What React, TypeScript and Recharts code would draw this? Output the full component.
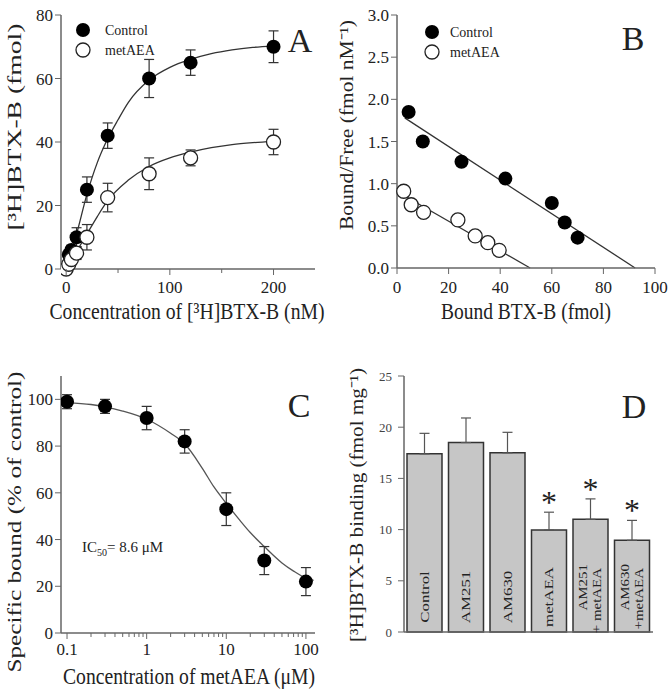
import React from 'react';
import { ComposedChart, Scatter, Line, Bar, XAxis, YAxis, ErrorBar, LabelList } from 'recharts';

const FONT = '"Liberation Serif", "Times New Roman", serif';
const INK = '#222';
const AXIS = '#666';

// A: saturation binding of [3H]BTX-B
const aCtrlConc = [2.5, 5, 10, 20, 40, 80, 120, 200];
const aCtrlBound = [4.5, 6, 10, 25, 42, 60, 65, 70];
const aCtrlErr = [1.5, 1.5, 3, 4, 4, 6, 4, 5];
const aMetConc = [0, 2.5, 5, 10, 20, 40, 80, 120, 200];
const aMetBound = [0, 1.5, 3, 5, 10, 22.5, 30, 35, 40];
const aMetErr = [0, 1, 1.5, 2, 4, 4.5, 5, 2.5, 4];
const aCtrlFitX = [0, 5, 10, 20, 30, 40, 50, 60, 80, 100, 120, 140, 160, 180, 200];
const aCtrlFitY = [0, 5.5, 11, 23.5, 33.5, 41, 47, 52.5, 59.5, 63.5, 66, 67.8, 69, 69.8, 70.3];
const aMetFitX = [0, 5, 10, 20, 30, 40, 60, 80, 100, 120, 140, 160, 180, 200];
const aMetFitY = [0, 2.8, 5.5, 11, 16.5, 21.5, 28, 32.3, 35, 36.8, 38.2, 39.2, 39.8, 40.2];

// B: Scatchard plot
const bCtrlBound = [4.5, 10, 25, 42, 60, 65, 70];
const bCtrlRatio = [1.85, 1.5, 1.26, 1.06, 0.77, 0.54, 0.36];
const bMetBound = [2.6, 5.5, 10.3, 23.6, 30.3, 35.2, 39.6];
const bMetRatio = [0.91, 0.75, 0.66, 0.57, 0.38, 0.3, 0.21];
const bCtrlLineX = [3, 92.3];
const bCtrlLineY = [1.78, 0];
const bMetLineX = [1.5, 51.6];
const bMetLineY = [0.88, 0];

// C: displacement by metAEA
const cConc = [0.1, 0.3, 1, 3, 10, 30, 100];
const cBound = [99, 97, 92, 82, 53, 31, 22];
const cErr = [3, 3, 5, 5, 7, 6, 6];
const cFitConc = [0.1, 0.2, 0.3, 0.5, 1, 2, 3, 5, 7, 10, 15, 20, 30, 50, 70, 100, 125];
const cFitBound = [98.5, 97.8, 96.8, 95, 91.5, 85.5, 81, 70.5, 62.5, 55.5, 48, 43, 37, 30, 26.5, 23.5, 22.5];
const cTicks = [0.1, 0.2, 0.3, 0.4, 0.5, 0.6, 0.7, 0.8, 0.9, 1, 2, 3, 4, 5, 6, 7, 8, 9, 10, 20, 30, 40, 50, 60, 70, 80, 90, 100];
const cMajor = [0.1, 1, 10, 100];

// D: binding with antagonists
const dGroups = ['Control', 'AM251', 'AM630', 'metAEA', 'AM251\n+ metAEA', 'AM630\n+metAEA'];
const dValues = [17.4, 18.5, 17.5, 9.95, 11.0, 8.95];
const dErrors = [2.0, 2.4, 2.0, 1.75, 2.0, 1.95];
const dSignif = [false, false, false, true, true, true];

const pts = (xs: number[], ys: number[], es?: number[]) =>
  xs.map((x, i) => ({ x, y: ys[i], err: es ? es[i] : 0 }));

const filledDot = (p: any) => <circle cx={p.cx} cy={p.cy} r={7} fill="#000" />;
const openDot = (p: any) => <circle cx={p.cx} cy={p.cy} r={7} fill="#fff" stroke="#222" strokeWidth={1.3} />;

const makeXTick = (axisY: number, majors: number[], fmt: (v: number) => string, off = 23) => (props: any) => {
  const { x, payload } = props;
  const v = payload.value;
  const major = majors.some((m) => Math.abs(m - v) < 1e-9);
  return (
    <g>
      <line x1={x} x2={x} y1={axisY} y2={axisY + (major ? 6 : 4)} stroke={AXIS} />
      {major && (
        <text x={x} y={axisY + off} textAnchor="middle" fontSize={17} fill={INK} fontFamily={FONT}>
          {fmt(v)}
        </text>
      )}
    </g>
  );
};

const yTickStyle = { fontSize: 17, fill: INK, fontFamily: FONT };

const BarName = (p: any) => {
  const lines = String(p.value).split('\n');
  const cx = p.x + p.width / 2;
  const bottom = p.y + p.height;
  if (lines.length === 1) {
    return (
      <text transform={`translate(${cx},${bottom - 35}) rotate(-90) scale(1.3,1)`} textAnchor="middle"
        dominantBaseline="central" fontSize={13} fill={INK} fontFamily={FONT}>{lines[0]}</text>
    );
  }
  return (
    <g>
      {lines.map((l, i) => (
        <text key={i} transform={`translate(${cx - 7 + i * 14},${bottom - 68 + i * 4}) rotate(-90) scale(1.3,1)`}
          textAnchor="end" dominantBaseline="central" fontSize={11.5} fill={INK} fontFamily={FONT}>{l}</text>
      ))}
    </g>
  );
};

const Star = (p: any) => {
  const i = dGroups.indexOf(p.value);
  if (i < 0 || !dSignif[i]) return null;
  const perUnit = p.height / dValues[i];
  const top = p.y - dErrors[i] * perUnit;
  return (
    <text x={p.x + p.width / 2} y={top + 1} textAnchor="middle" fontSize={32} fill={INK} fontFamily={FONT}>*</text>
  );
};

const Title = ({ x, y, len, rot = 0, sy = 1, children }: any) => (
  <text transform={`translate(${x},${y}) rotate(${rot}) scale(1,${sy})`} textAnchor="middle" dominantBaseline="central"
    fontSize={19} fill={INK} fontFamily={FONT} textLength={len} lengthAdjust="spacingAndGlyphs">{children}</text>
);

export default function App() {
  const dRows = dGroups.map((name, i) => ({ name, value: dValues[i], err: [0, dErrors[i]] }));
  return (
    <div style={{ position: 'relative', width: 670, height: 694, background: '#fff', fontFamily: FONT }}>
      <style>{'body{margin:0}'}</style>

      <div style={{ position: 'absolute', left: 0, top: 0 }}>
        <ComposedChart width={335} height={340} margin={{ top: 15, right: 20, left: 21, bottom: 41 }}>
          <XAxis type="number" dataKey="x" domain={[-5, 240]} ticks={[0, 50, 100, 150, 200]} allowDataOverflow interval={0}
            height={30} axisLine={{ stroke: AXIS, strokeWidth: 1.5 }} tickLine={false}
            tick={makeXTick(269, [0, 100, 200], (v) => String(v), 24) as any} />
          <YAxis type="number" dataKey="y" domain={[0, 80]} ticks={[0, 20, 40, 60, 80]} width={40} interval={0}
            axisLine={{ stroke: AXIS, strokeWidth: 1.5 }} tickLine={{ stroke: AXIS }} tick={yTickStyle} />
          <Line data={pts(aCtrlFitX, aCtrlFitY)} dataKey="y" type="monotone" dot={false} stroke="#333" strokeWidth={1.3} isAnimationActive={false} />
          <Line data={pts(aMetFitX, aMetFitY)} dataKey="y" type="monotone" dot={false} stroke="#333" strokeWidth={1.3} isAnimationActive={false} />
          <Scatter data={pts(aCtrlConc, aCtrlBound, aCtrlErr)} dataKey="y" shape={filledDot} isAnimationActive={false}>
            <ErrorBar dataKey="err" direction="y" width={5} stroke="#333" strokeWidth={1.2} />
          </Scatter>
          <Scatter data={pts(aMetConc, aMetBound, aMetErr)} dataKey="y" shape={openDot} isAnimationActive={false}>
            <ErrorBar dataKey="err" direction="y" width={5} stroke="#333" strokeWidth={1.2} />
          </Scatter>
        </ComposedChart>
      </div>

      <div style={{ position: 'absolute', left: 335, top: 0 }}>
        <ComposedChart width={335} height={340} margin={{ top: 15, right: 15, left: 22, bottom: 42 }}>
          <XAxis type="number" dataKey="x" domain={[0, 100]} ticks={[0, 20, 40, 60, 80, 100]} height={30} interval={0}
            axisLine={{ stroke: AXIS, strokeWidth: 1.5 }} tickLine={false}
            tick={makeXTick(268, [0, 20, 40, 60, 80, 100], (v) => String(v), 25) as any} />
          <YAxis type="number" dataKey="y" domain={[0, 3]} ticks={[0, 0.5, 1, 1.5, 2, 2.5, 3]} width={40} interval={0}
            tickFormatter={(v: number) => v.toFixed(1)}
            axisLine={{ stroke: AXIS, strokeWidth: 1.5 }} tickLine={{ stroke: AXIS }} tick={yTickStyle} />
          <Line data={pts(bCtrlLineX, bCtrlLineY)} dataKey="y" type="linear" dot={false} stroke="#333" strokeWidth={1.3} isAnimationActive={false} />
          <Line data={pts(bMetLineX, bMetLineY)} dataKey="y" type="linear" dot={false} stroke="#333" strokeWidth={1.3} isAnimationActive={false} />
          <Scatter data={pts(bCtrlBound, bCtrlRatio)} dataKey="y" shape={filledDot} isAnimationActive={false} />
          <Scatter data={pts(bMetBound, bMetRatio)} dataKey="y" shape={openDot} isAnimationActive={false} />
        </ComposedChart>
      </div>

      <div style={{ position: 'absolute', left: 0, top: 340 }}>
        <ComposedChart width={335} height={354} margin={{ top: 36, right: 20, left: 21, bottom: 31 }}>
          <XAxis type="number" dataKey="x" scale="log" domain={[0.084, 130]} ticks={cTicks} allowDataOverflow interval={0}
            height={30} axisLine={{ stroke: AXIS, strokeWidth: 1.5 }} tickLine={false}
            tick={makeXTick(293, cMajor, (v) => String(v), 22) as any} />
          <YAxis type="number" dataKey="y" domain={[0, 110]} ticks={[0, 20, 40, 60, 80, 100]} width={40} allowDataOverflow interval={0}
            axisLine={{ stroke: AXIS, strokeWidth: 1.5 }} tickLine={{ stroke: AXIS }} tick={yTickStyle} />
          <Line data={pts(cFitConc, cFitBound)} dataKey="y" type="monotone" dot={false} stroke="#555" strokeWidth={1.3} isAnimationActive={false} />
          <Scatter data={pts(cConc, cBound, cErr)} dataKey="y" shape={filledDot} isAnimationActive={false}>
            <ErrorBar dataKey="err" direction="y" width={5} stroke="#333" strokeWidth={1.2} />
          </Scatter>
        </ComposedChart>
      </div>

      <div style={{ position: 'absolute', left: 335, top: 340 }}>
        <ComposedChart width={335} height={354} data={dRows} margin={{ top: 36, right: 17, left: 29, bottom: 32 }}>
          <XAxis dataKey="name" height={30} tick={false} tickLine={false} axisLine={{ stroke: AXIS, strokeWidth: 1.5 }} />
          <YAxis type="number" domain={[0, 25]} ticks={[0, 5, 10, 15, 20, 25]} width={40} tickMargin={6} interval={0}
            axisLine={{ stroke: AXIS, strokeWidth: 1.5 }} tickLine={{ stroke: AXIS }}
            tick={{ fontSize: 13, fill: '#444', fontFamily: FONT }} />
          <Bar dataKey="value" barSize={35} fill="#c6c6c6" stroke="#333" strokeWidth={1.5} isAnimationActive={false}>
            <ErrorBar dataKey="err" direction="y" width={5} stroke="#555" strokeWidth={1.2} />
            <LabelList dataKey="name" content={BarName} />
            <LabelList dataKey="name" content={Star} />
          </Bar>
        </ComposedChart>
      </div>

      <svg width={670} height={694} style={{ position: 'absolute', left: 0, top: 0, pointerEvents: 'none' }}>
        <g fontFamily={FONT} fill={INK}>
          <text x={300} y={52} fontSize={34} textAnchor="middle">A</text>
          <text x={633} y={50} fontSize={34} textAnchor="middle">B</text>
          <text x={299} y={417} fontSize={34} textAnchor="middle">C</text>
          <text x={634} y={418} fontSize={34} textAnchor="middle">D</text>

          <circle cx={83} cy={30} r={7} fill="#000" />
          <text x={105} y={35} fontSize={14}>Control</text>
          <circle cx={83} cy={50} r={7} fill="#fff" stroke="#222" strokeWidth={1.3} />
          <text x={105} y={55} fontSize={14}>metAEA</text>

          <circle cx={432} cy={32} r={7} fill="#000" />
          <text x={450} y={37} fontSize={14}>Control</text>
          <circle cx={432} cy={52} r={7} fill="#fff" stroke="#222" strokeWidth={1.3} />
          <text x={450} y={57} fontSize={14}>metAEA</text>

          <text x={82} y={552} fontSize={15}>IC<tspan fontSize={10} dy={4}>50</tspan><tspan dy={-4}>= 8.6 μM</tspan></text>
        </g>
        <Title x={187} y={311} len={275} sy={1.2}>Concentration of [³H]BTX-B (nM)</Title>
        <Title x={526} y={311} len={170} sy={1.2}>Bound BTX-B (fmol)</Title>
        <Title x={189} y={676} len={252} sy={1.2}>Concentration of metAEA (μM)</Title>
        <Title x={14} y={127} len={207} rot={-90}>[³H]BTX-B (fmol)</Title>
        <Title x={346} y={125} len={210} rot={-90}>Bound/Free (fmol nM⁻¹)</Title>
        <Title x={14} y={522} len={301} rot={-90}>Specific bound (% of control)</Title>
        <Title x={356} y={505} len={274} rot={-90}>[³H]BTX-B binding (fmol mg⁻¹)</Title>
      </svg>
    </div>
  );
}
